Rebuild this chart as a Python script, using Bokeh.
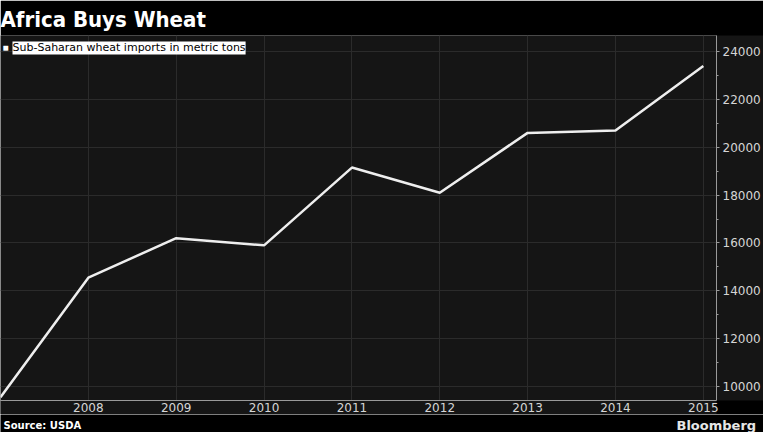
from bokeh.plotting import figure
from bokeh.models import Range1d, FixedTicker, Label
from bokeh.layouts import column
from bokeh.embed import file_html
from bokeh.resources import INLINE

years = [2007, 2008, 2009, 2010, 2011, 2012, 2013, 2014, 2015]
imports = [9550, 14550, 16200, 15900, 19150, 18100, 20600, 20700, 23400]
x_ticks = [2008, 2009, 2010, 2011, 2012, 2013, 2014, 2015]
y_ticks = [10000, 12000, 14000, 16000, 18000, 20000, 22000, 24000]
y_minor = [9000, 11000, 13000, 15000, 17000, 19000, 21000, 23000]

BG = "#151515"
W = 763
p = figure(width=W, height=414, output_backend="svg", toolbar_location=None,
           x_range=Range1d(2007, 2015.15), y_range=Range1d(9415, 24670),
           y_axis_location="right", min_border=0)
p.background_fill_color = BG
p.border_fill_color = "black"
p.outline_line_color = None

p.title.text = "Africa Buys Wheat"
p.title.text_font = "DejaVu Sans Condensed"
p.title.text_font_style = "bold"
p.title.text_font_size = "22px"
p.title.text_color = "white"
p.title.offset = 0
p.title.standoff = 8
p.min_border_top = 4

p.line(years, imports, line_color="#eeeeee", line_width=2.5)

for ax in (p.xaxis, p.yaxis):
    ax.axis_line_color = "#9a9a9a"
    ax.major_tick_line_color = "#9a9a9a"
    ax.minor_tick_line_color = "#9a9a9a"
    ax.major_label_text_color = "#d5d5d5"
    ax.major_label_text_font = "DejaVu Sans"
    ax.major_label_text_font_size = "12px"
    ax.background_fill_color = BG

p.xaxis.ticker = FixedTicker(ticks=x_ticks)
p.xaxis.major_tick_out = 0
p.xaxis.major_tick_in = 0
p.xaxis.major_label_standoff = 2
p.yaxis.ticker = FixedTicker(ticks=y_ticks, minor_ticks=y_minor)
p.yaxis.major_tick_out = 3
p.yaxis.major_tick_in = 0
p.yaxis.minor_tick_out = 2
p.yaxis.minor_tick_in = 0
p.yaxis.major_label_standoff = 3

p.xgrid.ticker = FixedTicker(ticks=x_ticks)
p.ygrid.ticker = FixedTicker(ticks=y_ticks)
p.grid.grid_line_color = "#2b2b2b"
p.grid.grid_line_width = 1

p.add_layout(Label(x=2, y=24150, x_units="screen", y_units="data",
                   text="Sub-Saharan wheat imports in metric tons",
                   text_font="DejaVu Sans", text_font_size="11px",
                   text_color="black", background_fill_color="white",
                   text_baseline="middle", x_offset=10))
p.add_layout(Label(x=2, y=24150, x_units="screen", y_units="data", text="■",
                   text_color="white", text_font_size="10px", text_baseline="middle"))

# footer band
f = figure(frame_width=W, frame_height=18, output_backend="svg", toolbar_location=None,
           x_range=Range1d(0, 1), y_range=Range1d(0, 1), min_border=0,
           x_axis_location=None, y_axis_location=None)
f.grid.visible = False
f.outline_line_color = None
f.background_fill_color = "black"
f.border_fill_color = "black"
f.add_layout(Label(x=3, y=7, x_units="screen", y_units="screen", text="Source: USDA",
                   text_font="DejaVu Sans", text_font_style="bold", text_font_size="10px",
                   text_color="white", text_baseline="middle"))
f.add_layout(Label(x=676, y=7, x_units="screen", y_units="screen", text="Bloomberg",
                   text_font="DejaVu Sans", text_font_style="bold", text_font_size="13px",
                   text_color="#e6e6e6", text_baseline="middle"))

layout = column(p, f, spacing=0)
open("out.html", "w").write(file_html(layout, INLINE))
